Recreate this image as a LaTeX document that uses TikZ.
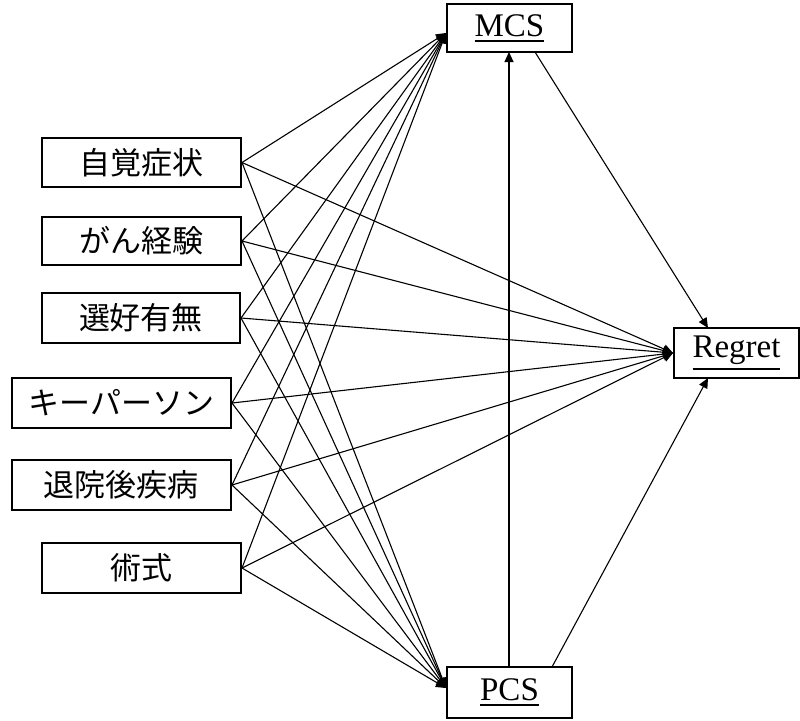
\documentclass[tikz,border=0pt]{standalone}
\usepackage{fontspec}
\setmainfont{Liberation Serif}
\newfontfamily\jp{Noto Sans CJK JP}
\usetikzlibrary{arrows.meta}
\newcommand\ulx[1]{\leavevmode\vtop{\hbox{#1}\kern1.6pt\hrule height 0.9pt}}
\begin{document}
\begin{tikzpicture}[x=0.5pt,y=-0.5pt,
  box/.style={draw,line width=1pt,inner sep=0pt,anchor=center},
  jbox/.style={box,font=\jp\fontsize{15.5pt}{17pt}\selectfont},
  ebox/.style={box,font=\fontsize{16.5pt}{18pt}\selectfont},
  conn/.style={line width=0.55pt},
  arr/.style={conn,-{Triangle[length=5pt,width=4.5pt]}}]
\useasboundingbox (0,0) rectangle (800,720);
% left nodes
\node[jbox,minimum width=99.5pt,minimum height=24.5pt] (s1) at (141.5,162.5) {自覚症状};
\node[jbox,minimum width=99.5pt,minimum height=24pt] (s2) at (141.5,241) {がん経験};
\node[jbox,minimum width=99pt,minimum height=25pt] (s3) at (141,318) {選好有無};
\node[jbox,minimum width=109.5pt,minimum height=25pt] (s4) at (121.5,403) {キーパーソン};
\node[jbox,minimum width=109.5pt,minimum height=25pt] (s5) at (121.5,485) {退院後疾病};
\node[jbox,minimum width=99.5pt,minimum height=25pt] (s6) at (141.5,568) {術式};
% right nodes
\node[ebox,minimum width=62.5pt,minimum height=24pt] (mcs) at (509.5,28) {\ulx{MCS}};
\node[ebox,minimum width=62.5pt,minimum height=25.5pt] (pcs) at (509.5,692.5) {\ulx{PCS}};
\node[ebox,minimum width=62.5pt,minimum height=25pt] (reg) at (736.5,353) {\ulx{Regret}};
% entry points
\coordinate (mcsin) at (446,33);
\coordinate (pcsin) at (446,688);
\coordinate (regin) at (reg.west);
\coordinate (mcsb1) at (535,52);
\coordinate (mcsb0) at (509,52);
\coordinate (pcst0) at (509,667);
\coordinate (pcst1) at (552,667);
\coordinate (regt) at (708,328);
\coordinate (regb) at (708,378);
% connectors
\foreach \s in {s1,s2,s3,s4,s5,s6}{
  \draw[arr] (\s.east) -- (mcsin);
  \draw[arr] (\s.east) -- (pcsin);
  \draw[arr] (\s.east) -- (regin);
}
\draw[arr] (mcsb1) -- (regt);
\draw[arr] (pcst0) -- (mcsb0);
\draw[arr] (pcst1) -- (regb);
\end{tikzpicture}
\end{document}
